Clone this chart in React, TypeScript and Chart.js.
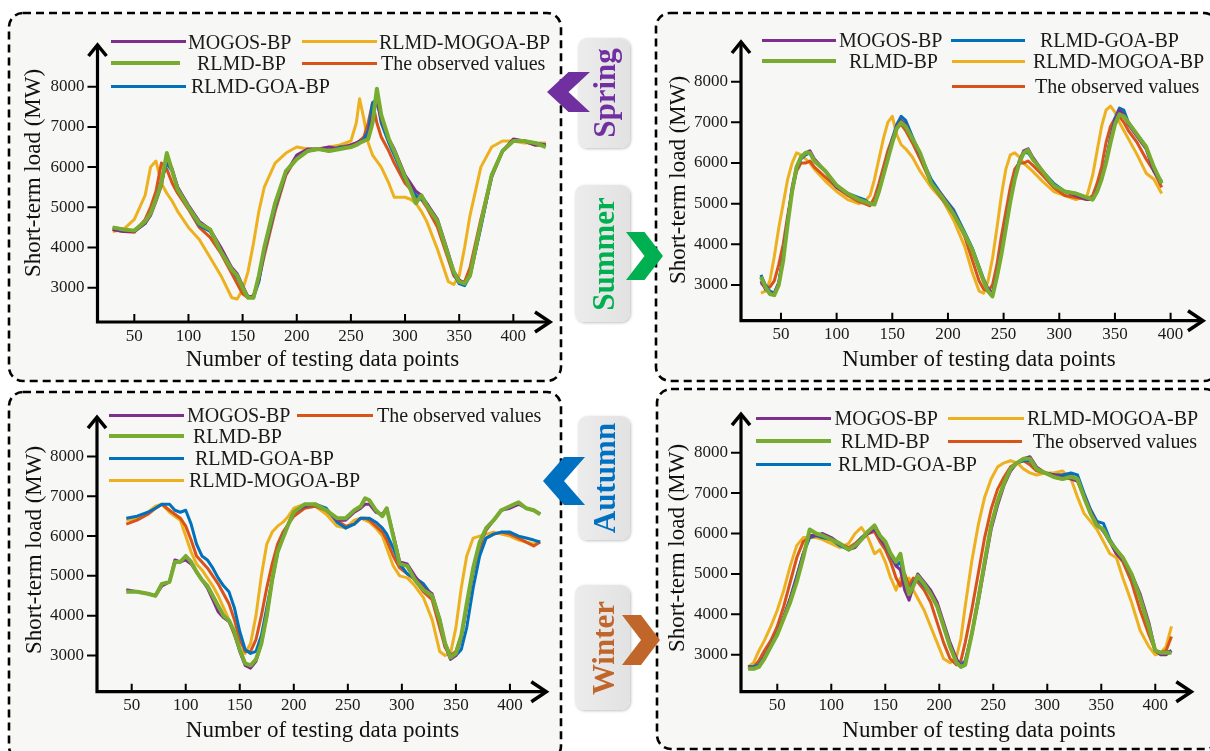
import React, { useEffect, useRef } from "react";
import { Chart, registerables } from "chart.js";

Chart.register(...registerables);

// ---------------- data ----------------
const xTickValues = [50, 100, 150, 200, 250, 300, 350, 400];
const yTickValues = [3000, 4000, 5000, 6000, 7000, 8000];

// Spring
const springX = [30,40,50,60,65,70,75,80,85,90,100,110,120,130,140,145,150,155,160,165,170,180,190,200,210,220,230,240,250,255,258,262,266,270,274,278,285,290,300,305,310,315,320,330,340,345,350,355,360,370,380,390,400,410,420,430];
const springObs = [4450,4400,4380,4700,5000,5400,6100,5950,5600,5350,4950,4500,4250,3850,3350,3100,2850,2750,2800,3200,3800,4900,5800,6250,6400,6450,6400,6500,6550,6600,6650,6750,7100,7600,7100,6750,6400,6100,5600,5450,5250,5200,5000,4500,3700,3300,3150,3150,3500,4700,5800,6400,6650,6650,6550,6550];
const springMogoa = [4400,4450,4700,5300,6000,6150,5600,5350,5150,4900,4500,4200,3750,3300,2750,2720,2950,3400,4100,4900,5500,6100,6350,6500,6450,6450,6500,6550,6650,7100,7700,7200,6600,6300,6150,6000,5600,5250,5250,5200,5100,4900,4650,3950,3150,3080,3300,4000,4800,6000,6500,6650,6650,6600,6600,6600];
const springRlmd = [4500,4450,4420,4650,4850,5200,5600,6350,5900,5450,5000,4600,4450,3900,3450,3300,3000,2750,2750,3300,4000,5100,5900,6200,6400,6450,6400,6450,6500,6550,6600,6650,6700,7100,7950,7300,6700,6400,5750,5450,5100,5300,5050,4650,3800,3400,3150,3100,3300,4600,5800,6400,6650,6650,6600,6500];
const springMogos = [4450,4400,4400,4600,4800,5150,5550,6250,5950,5500,5050,4650,4450,4000,3500,3350,3050,2780,2780,3200,3950,5100,5850,6300,6450,6450,6500,6450,6550,6600,6650,6650,6750,7300,7650,7200,6700,6450,5800,5600,5400,5300,5100,4700,3850,3400,3200,3100,3300,4550,5750,6400,6700,6650,6550,6550];
const springGoa = [4500,4450,4400,4600,4850,5200,5650,6100,5900,5500,5000,4550,4400,3950,3450,3250,3000,2780,2750,3150,3900,5000,5850,6250,6400,6450,6400,6500,6500,6550,6600,6700,6900,7600,7700,7100,6600,6300,5700,5500,5300,5200,5100,4650,3800,3350,3100,3050,3300,4500,5800,6400,6650,6650,6600,6550];

// Summer
const summerX = [32,36,40,44,48,52,56,60,64,68,72,76,80,90,100,110,120,125,130,134,138,142,146,150,154,158,162,168,175,185,195,205,215,222,228,232,236,240,244,248,252,256,260,264,268,272,276,285,295,305,315,325,330,334,338,342,346,350,354,358,362,370,378,385,392];
const summerObs = [3050,2950,2950,3100,3500,4000,4700,5300,5800,6000,6000,6050,5900,5650,5400,5200,5050,5000,4950,5150,5500,5900,6300,6600,6850,6950,6800,6500,6100,5500,5100,4750,4200,3600,3100,2900,2850,3000,3500,4200,4800,5400,5850,6000,6000,6050,5950,5700,5400,5200,5150,5100,5200,5500,5900,6500,6900,7100,7150,7000,6800,6500,6100,5800,5400];
const summerMogoa = [2800,2850,3100,3700,4400,5000,5600,6000,6250,6200,6100,6000,5850,5550,5300,5100,5000,5050,5200,5600,6100,6600,7000,7150,6700,6450,6350,6150,5800,5400,5100,4600,3950,3300,2850,2800,3100,3650,4400,5200,5850,6200,6250,6150,6000,5900,5800,5550,5300,5200,5100,5200,5700,6300,6900,7300,7400,7250,7000,6800,6600,6200,5750,5600,5250];
const summerRlmd = [3200,2950,2780,2750,3000,3600,4500,5300,5900,6150,6250,6250,6050,5800,5450,5250,5100,5050,5000,4980,5300,5700,6100,6500,6850,7000,6900,6600,6250,5500,5150,4750,4250,3850,3400,3100,2850,2720,3200,3750,4400,5050,5600,6000,6250,6320,6100,5800,5450,5300,5250,5150,5100,5300,5600,6000,6500,6950,7200,7150,7000,6700,6400,5900,5500];
const summerMogos = [3100,2900,2800,2800,3050,3700,4600,5400,5900,6150,6250,6300,6100,5800,5400,5250,5100,5050,5000,5000,5350,5750,6150,6550,6900,7050,6950,6600,6200,5500,5200,4800,4250,3850,3400,3100,2900,2800,3200,3800,4450,5100,5650,6050,6300,6350,6150,5800,5450,5300,5200,5100,5100,5350,5650,6050,6600,7050,7300,7200,6950,6650,6350,5800,5500];
const summerGoa = [3250,3000,2850,2800,3050,3700,4600,5300,5850,6100,6200,6250,6050,5800,5450,5250,5150,5100,5000,5000,5300,5700,6100,6600,6950,7150,7050,6650,6200,5600,5200,4850,4300,3900,3450,3150,2900,2800,3250,3850,4500,5100,5650,6000,6250,6250,6100,5800,5500,5300,5250,5150,5100,5300,5600,6050,6600,7100,7350,7300,7000,6700,6400,5800,5550];

// Autumn
const autumnX = [45,55,65,72,78,85,90,95,100,105,110,115,120,125,130,135,140,145,150,155,160,165,170,175,180,185,190,195,200,210,220,230,240,248,256,262,266,270,276,282,286,292,298,305,312,320,328,335,340,345,350,355,360,366,372,378,385,392,400,408,415,422,428];
const autumnObs = [6300,6400,6550,6700,6800,6650,6550,6450,6250,5900,5500,5350,5200,5000,4800,4550,4300,3900,3400,3100,3100,3400,4000,4700,5300,5800,6100,6300,6500,6700,6750,6650,6400,6250,6300,6450,6450,6400,6250,6100,5900,5500,5200,5050,4900,4600,4400,3700,3200,3000,3100,3500,4200,5100,5700,5950,6050,6100,6050,5950,5850,5750,5850];
const autumnRlmd = [4600,4600,4550,4500,4800,4850,5350,5350,5500,5350,5100,4900,4750,4500,4250,4000,3880,3600,3150,2800,2750,2900,3300,4000,4900,5600,5950,6300,6600,6800,6800,6650,6450,6450,6650,6750,6950,6900,6650,6500,6700,6000,5300,5250,4900,4650,4500,3900,3300,2950,3050,3500,4300,5200,5850,6200,6400,6650,6750,6850,6700,6650,6550];
const autumnMogos = [4650,4600,4550,4500,4750,4850,5400,5350,5400,5300,5100,4900,4700,4400,4100,3950,3850,3550,3100,2750,2680,2850,3300,4000,4900,5600,6000,6300,6600,6750,6800,6650,6400,6400,6600,6700,6800,6800,6600,6550,6700,6050,5350,5300,5000,4700,4550,3900,3250,2900,3000,3450,4250,5150,5800,6150,6400,6650,6700,6800,6700,6650,6550];
const autumnGoa = [6450,6500,6600,6700,6800,6800,6650,6600,6650,6300,5800,5500,5400,5200,4950,4750,4600,4200,3600,3150,3050,3100,3500,4200,4900,5600,6000,6300,6600,6750,6800,6700,6350,6200,6300,6450,6450,6450,6350,6200,6050,5700,5300,5050,4950,4800,4500,3900,3300,3000,3000,3150,3700,4700,5500,5950,6050,6100,6100,6000,5950,5900,5850];
const autumnMogoa = [6400,6450,6600,6750,6800,6600,6500,6400,6000,5600,5300,5150,4950,4750,4500,4200,3900,3500,3150,3050,3300,4000,5000,5800,6100,6250,6350,6500,6700,6800,6750,6550,6250,6200,6400,6450,6400,6350,6200,6000,5700,5250,5000,4950,4750,4450,3900,3100,3000,3050,3700,4700,5500,5950,6000,6050,6100,6050,6000,5900,5850,5800,5850];

// Winter
const winterX = [23,28,33,38,44,50,56,62,68,74,80,86,92,100,108,116,122,128,134,140,145,150,155,160,164,168,172,176,180,186,192,198,204,210,216,220,224,230,236,242,248,254,260,266,272,278,284,290,298,306,314,322,328,334,340,346,352,358,364,370,378,386,394,400,405,410,415];
const winterObs = [2700,2700,2850,3100,3350,3700,4200,4800,5400,5800,5900,5950,5900,5850,5750,5650,5750,5900,6000,6050,5800,5600,5300,4900,4700,5000,4700,4900,4800,4600,4300,3800,3300,2900,2750,2850,3300,4100,5000,5900,6600,7100,7400,7650,7750,7800,7700,7550,7500,7450,7450,7450,7300,6900,6500,6200,6100,5800,5500,5300,4800,4100,3500,3100,3050,3100,3450];
const winterMogoa = [2700,2800,3100,3350,3700,4100,4600,5200,5700,5900,5900,5900,5850,5750,5650,5750,6000,6150,5900,5500,5600,5300,4900,4600,4900,4800,4900,4600,4400,4100,3700,3300,2900,2800,2950,3400,4200,5300,6200,6900,7350,7650,7750,7800,7750,7600,7500,7450,7500,7500,7550,7350,6900,6500,6300,6100,5800,5500,5400,4900,4300,3600,3200,3000,3050,3200,3700];
const winterRlmd = [2650,2650,2700,2900,3200,3500,3900,4300,4800,5400,6100,6000,5950,5850,5750,5600,5700,5850,6050,6200,5950,5800,5500,5300,5500,4900,4500,4700,4950,4750,4500,4200,3700,3200,2800,2700,2750,3500,4350,5300,6200,6800,7250,7600,7750,7850,7850,7600,7500,7400,7350,7400,7350,6900,6500,6200,6100,5800,5600,5400,5000,4400,3700,3100,3050,3050,3050];
const winterMogos = [2700,2650,2700,2950,3250,3550,3950,4400,4900,5500,5950,5950,6000,5900,5750,5600,5650,5850,6000,6100,5900,5700,5500,5200,5100,4600,4350,4700,5000,4800,4600,4300,3800,3300,2900,2700,2800,3500,4300,5200,6100,6700,7200,7550,7750,7850,7900,7650,7500,7450,7400,7350,7300,6950,6550,6250,6050,5800,5500,5350,5000,4500,3800,3100,3000,3000,3100];
const winterGoa = [2700,2700,2750,2950,3200,3500,3900,4400,4950,5500,5900,5950,5900,5850,5700,5600,5700,5900,6050,6150,5900,5700,5450,5200,5300,4800,4500,4800,4900,4700,4500,4200,3700,3200,2850,2750,2850,3500,4400,5300,6200,6800,7250,7550,7750,7800,7800,7600,7500,7450,7450,7500,7450,7000,6600,6300,6250,5850,5600,5400,4950,4400,3700,3100,3050,3050,3100];

// ---------------- styles ----------------
const SERIF = "'Liberation Serif', 'Times New Roman', serif";
const seriesStyle: Record<string, { label: string; color: string; width: number; order: number }> = {
  mogos: { label: "MOGOS-BP", color: "#7E2F8E", width: 3, order: 1 },
  rlmd: { label: "RLMD-BP", color: "#77AC30", width: 4, order: 0 },
  goa: { label: "RLMD-GOA-BP", color: "#0072BD", width: 3, order: 2 },
  mogoa: { label: "RLMD-MOGOA-BP", color: "#EDB120", width: 3, order: 4 },
  obs: { label: "The observed values", color: "#D95319", width: 3, order: 3 },
};
const seriesKeys = ["mogos", "rlmd", "goa", "mogoa", "obs"];

type LegendItem = { k: string; y: number; x1: number; x2: number; tx: number };
type Panel = {
  id: string;
  x: number[];
  values: Record<string, number[]>;
  box: { x: number; y: number; w: number; h: number };
  canvas: { x: number; y: number; w: number; h: number };
  area: { left: number; top: number; right: number; bottom: number };
  xMin: number; xMax: number; yMin: number; yMax: number;
  legend: LegendItem[];
  xTitle: { cx: number; cy: number };
  yTitle: { cx: number; cy: number };
};

const panels: Panel[] = [
  {
    id: "spring", x: springX,
    values: { mogos: springMogos, rlmd: springRlmd, goa: springGoa, mogoa: springMogoa, obs: springObs },
    box: { x: 9, y: 13, w: 552, h: 368 },
    canvas: { x: 9, y: 13, w: 552, h: 368 },
    area: { left: 97.5, top: 43, right: 552, bottom: 322 },
    xMin: 16, xMax: 435.7, yMin: 2147, yMax: 9087,
    legend: [
      { k: "mogos", y: 41.7, x1: 111, x2: 186, tx: 188 },
      { k: "mogoa", y: 41.7, x1: 302, x2: 377, tx: 379 },
      { k: "rlmd", y: 63.3, x1: 111, x2: 180, tx: 197 },
      { k: "obs", y: 63.3, x1: 302, x2: 377, tx: 381 },
      { k: "goa", y: 86, x1: 111, x2: 186, tx: 191 },
    ],
    xTitle: { cx: 322.5, cy: 357.5 }, yTitle: { cx: 31.7, cy: 173 },
  },
  {
    id: "summer", x: summerX,
    values: { mogos: summerMogos, rlmd: summerRlmd, goa: summerGoa, mogoa: summerMogoa, obs: summerObs },
    box: { x: 656, y: 13, w: 562, h: 368 },
    canvas: { x: 656, y: 13, w: 554, h: 368 },
    area: { left: 741, top: 40, right: 1205, bottom: 320.7 },
    xMin: 14.1, xMax: 430.9, yMin: 2122, yMax: 9026,
    legend: [
      { k: "mogos", y: 40, x1: 762, x2: 836, tx: 839 },
      { k: "goa", y: 40, x1: 951, x2: 1025, tx: 1040 },
      { k: "rlmd", y: 61, x1: 762, x2: 836, tx: 849 },
      { k: "mogoa", y: 61, x1: 952, x2: 1025, tx: 1033 },
      { k: "obs", y: 86, x1: 952, x2: 1025, tx: 1035 },
    ],
    xTitle: { cx: 979, cy: 357.5 }, yTitle: { cx: 676.7, cy: 180 },
  },
  {
    id: "autumn", x: autumnX,
    values: { mogos: autumnMogos, rlmd: autumnRlmd, goa: autumnGoa, mogoa: autumnMogoa, obs: autumnObs },
    box: { x: 9, y: 392, w: 552, h: 368 },
    canvas: { x: 9, y: 392, w: 552, h: 359 },
    area: { left: 97, top: 406.7, right: 548.3, bottom: 691.7 },
    xMin: 17.9, xMax: 435.5, yMin: 2088, yMax: 9039,
    legend: [
      { k: "mogos", y: 415, x1: 109, x2: 184, tx: 187 },
      { k: "obs", y: 415, x1: 297, x2: 373, tx: 377 },
      { k: "rlmd", y: 436, x1: 109, x2: 184, tx: 193 },
      { k: "goa", y: 458.3, x1: 109, x2: 184, tx: 195 },
      { k: "mogoa", y: 480, x1: 109, x2: 184, tx: 189 },
    ],
    xTitle: { cx: 322.5, cy: 728.5 }, yTitle: { cx: 33, cy: 549.5 },
  },
  {
    id: "winter", x: winterX,
    values: { mogos: winterMogos, rlmd: winterRlmd, goa: winterGoa, mogoa: winterMogoa, obs: winterObs },
    box: { x: 657, y: 389, w: 562, h: 360 },
    canvas: { x: 657, y: 389, w: 553, h: 362 },
    area: { left: 741, top: 409, right: 1193.3, bottom: 691.7 },
    xMin: 16.4, xMax: 435.2, yMin: 2085, yMax: 9003,
    legend: [
      { k: "mogos", y: 418.3, x1: 755.6, x2: 831, tx: 834.5 },
      { k: "mogoa", y: 418.3, x1: 948, x2: 1023.6, tx: 1027 },
      { k: "rlmd", y: 441, x1: 755.6, x2: 831, tx: 840.7 },
      { k: "obs", y: 441, x1: 948, x2: 1022, tx: 1032.7 },
      { k: "goa", y: 464.3, x1: 755.6, x2: 831, tx: 838 },
    ],
    xTitle: { cx: 979, cy: 728.5 }, yTitle: { cx: 676, cy: 547.5 },
  },
];

const seasons = [
  { label: "Spring", color: "#7030A0", box: { x: 578, y: 38, w: 52, h: 110 }, tx: 604, ty: 93, dir: "left", ch: { x: 547, y: 72, w: 43, h: 40 } },
  { label: "Summer", color: "#00B050", box: { x: 575, y: 185, w: 55, h: 137 }, tx: 603, ty: 254, dir: "right", ch: { x: 626, y: 232, w: 37, h: 48 } },
  { label: "Autumn", color: "#0070C0", box: { x: 578, y: 416, w: 52, h: 124 }, tx: 604, ty: 478, dir: "left", ch: { x: 543, y: 457, w: 42, h: 48 } },
  { label: "Winter", color: "#C0662B", box: { x: 575, y: 585, w: 55, h: 125 }, tx: 603, ty: 648, dir: "right", ch: { x: 622, y: 615, w: 38, h: 50 } },
];

// ---------------- plugin: arrow axes with inward x ticks ----------------
const arrowAxes = {
  id: "arrowAxes",
  afterDraw(chart: any) {
    const { ctx, chartArea, scales } = chart;
    const { left, top, right, bottom } = chartArea;
    ctx.save();
    ctx.strokeStyle = "#000";
    ctx.lineCap = "butt";
    ctx.lineJoin = "miter";
    ctx.lineWidth = 2;
    ctx.beginPath();
    for (const v of yTickValues) {
      const y = scales.y.getPixelForValue(v);
      ctx.moveTo(left - 10, y);
      ctx.lineTo(left, y);
    }
    for (const v of xTickValues) {
      const x = scales.x.getPixelForValue(v);
      ctx.moveTo(x, bottom);
      ctx.lineTo(x, bottom - 8);
    }
    ctx.stroke();
    ctx.lineWidth = 3.2;
    ctx.beginPath();
    ctx.moveTo(left, bottom + 1.6);
    ctx.lineTo(left, top + 2);
    ctx.moveTo(left - 1.6, bottom);
    ctx.lineTo(right - 2, bottom);
    ctx.stroke();
    ctx.lineWidth = 3.5;
    ctx.beginPath();
    ctx.moveTo(left - 9, top + 13);
    ctx.lineTo(left, top + 2);
    ctx.lineTo(left + 9, top + 13);
    ctx.moveTo(right - 17, bottom - 10);
    ctx.lineTo(right - 2, bottom);
    ctx.lineTo(right - 17, bottom + 10);
    ctx.stroke();
    ctx.restore();
  },
};

function PanelChart({ p }: { p: Panel }) {
  const ref = useRef<HTMLCanvasElement>(null);
  useEffect(() => {
    const c = p.canvas;
    const a = p.area;
    const tickFont = { family: SERIF, size: 17 };
    const chart = new Chart(ref.current as HTMLCanvasElement, {
      type: "line",
      data: {
        datasets: seriesKeys.map((k) => ({
          label: seriesStyle[k].label,
          data: p.x.map((xv, i) => ({ x: xv, y: p.values[k][i] })),
          borderColor: seriesStyle[k].color,
          backgroundColor: seriesStyle[k].color,
          borderWidth: seriesStyle[k].width,
          pointRadius: 0,
          tension: 0,
          fill: false,
          order: seriesStyle[k].order,
          clip: false as any,
          borderJoinStyle: "round" as const,
        })),
      },
      options: {
        responsive: false,
        maintainAspectRatio: false,
        animation: false,
        events: [],
        layout: { padding: { left: 0, top: a.top - c.y, right: c.x + c.w - a.right, bottom: 0 } },
        plugins: { legend: { display: false }, tooltip: { enabled: false } },
        scales: {
          x: {
            type: "linear",
            min: p.xMin,
            max: p.xMax,
            grid: { display: false, drawTicks: false },
            border: { display: false },
            afterFit: (s: any) => { s.height = c.y + c.h - a.bottom; },
            afterBuildTicks: (s: any) => { s.ticks = xTickValues.map((v) => ({ value: v })); },
            ticks: { font: tickFont, color: "#1a1a1a", padding: 4, maxRotation: 0, autoSkip: false, callback: (v: any) => String(v) },
          },
          y: {
            type: "linear",
            min: p.yMin,
            max: p.yMax,
            grid: { display: false, drawTicks: false },
            border: { display: false },
            afterFit: (s: any) => { s.width = a.left - c.x; },
            afterBuildTicks: (s: any) => { s.ticks = yTickValues.map((v) => ({ value: v })); },
            ticks: { font: tickFont, color: "#1a1a1a", padding: 13, autoSkip: false, callback: (v: any) => String(v) },
          },
        },
      },
      plugins: [arrowAxes],
    });
    return () => chart.destroy();
  }, [p]);
  const c = p.canvas;
  return (
    <canvas
      ref={ref}
      width={c.w}
      height={c.h}
      style={{ position: "absolute", left: c.x, top: c.y, width: c.w, height: c.h }}
    />
  );
}

function Legend({ p }: { p: Panel }) {
  return (
    <>
      {p.legend.map((it, i) => {
        const st = seriesStyle[it.k];
        const lw = it.k === "rlmd" ? 4 : 3;
        return (
          <React.Fragment key={i}>
            <div style={{ position: "absolute", left: it.x1, top: it.y - lw / 2, width: it.x2 - it.x1, height: lw, background: st.color }} />
            <div style={{ position: "absolute", left: it.tx, top: it.y - 10, height: 20, lineHeight: "20px", fontFamily: SERIF, fontSize: 20, color: "#1a1a1a", whiteSpace: "nowrap" }}>{st.label}</div>
          </React.Fragment>
        );
      })}
      <div style={{ position: "absolute", left: p.xTitle.cx, top: p.xTitle.cy, transform: "translate(-50%,-50%)", fontFamily: SERIF, fontSize: 23, lineHeight: 1, color: "#111", whiteSpace: "nowrap" }}>Number of testing data points</div>
      <div style={{ position: "absolute", left: p.yTitle.cx, top: p.yTitle.cy, transform: "translate(-50%,-50%) rotate(-90deg)", fontFamily: SERIF, fontSize: 23, lineHeight: 1, color: "#111", whiteSpace: "nowrap" }}>Short-term load (MW)</div>
    </>
  );
}

function chevronPoints(dir: string, w: number, h: number) {
  if (dir === "left") {
    return `0,${h / 2} ${w * 0.5},0 ${w},0 ${w * 0.5},${h / 2} ${w},${h} ${w * 0.5},${h}`;
  }
  return `${w},${h / 2} ${w * 0.5},0 0,0 ${w * 0.5},${h / 2} 0,${h} ${w * 0.5},${h}`;
}

export default function App() {
  return (
    <div style={{ position: "absolute", left: 0, top: 0, width: 1210, height: 751, overflow: "hidden", background: "#ffffff" }}>
      {panels.map((p) => (
        <div key={p.id + "bg"} style={{ position: "absolute", left: p.box.x, top: p.box.y, width: p.box.w, height: p.box.h, background: "#f7f7f5", borderRadius: 14 }} />
      ))}
      {panels.map((p) => (
        <PanelChart key={p.id} p={p} />
      ))}
      <svg width={1210} height={751} style={{ position: "absolute", left: 0, top: 0 }}>
        {panels.map((p) => (
          <rect key={p.id} x={p.box.x} y={p.box.y} width={p.box.w} height={p.box.h} rx={14} ry={14} fill="none" stroke="#000" strokeWidth={2.6} strokeDasharray="8 5" />
        ))}
      </svg>
      {panels.map((p) => (
        <Legend key={p.id + "lg"} p={p} />
      ))}
      {seasons.map((s) => (
        <React.Fragment key={s.label}>
          <div style={{ position: "absolute", left: s.box.x, top: s.box.y, width: s.box.w, height: s.box.h, background: "linear-gradient(90deg,#ececec,#e2e2e2)", borderRadius: 9, boxShadow: "1px 1px 3px rgba(0,0,0,0.25)" }} />
          <div style={{ position: "absolute", left: s.tx, top: s.ty, transform: "translate(-50%,-50%) rotate(-90deg)", fontFamily: SERIF, fontWeight: "bold", fontSize: 31, lineHeight: 1, color: s.color, whiteSpace: "nowrap" }}>{s.label}</div>
          <svg width={s.ch.w} height={s.ch.h} style={{ position: "absolute", left: s.ch.x, top: s.ch.y }}>
            <polygon points={chevronPoints(s.dir, s.ch.w, s.ch.h)} fill={s.color} />
          </svg>
        </React.Fragment>
      ))}
    </div>
  );
}
